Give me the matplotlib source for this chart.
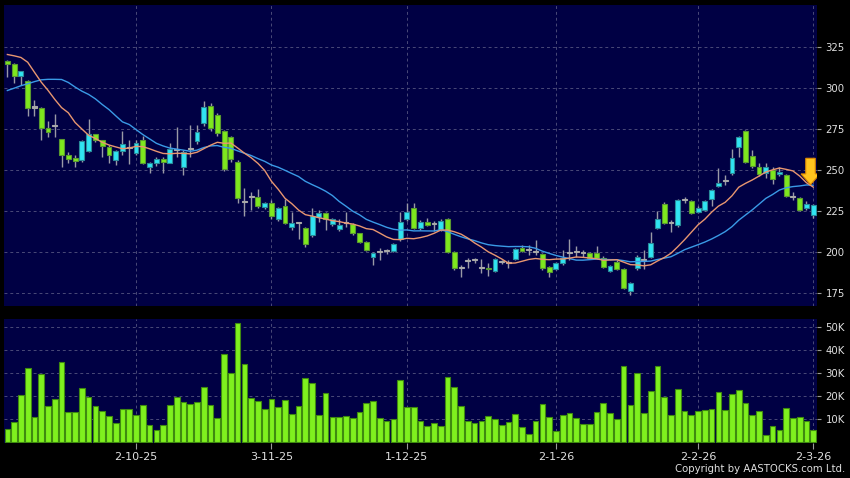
import numpy as np
import pandas as pd
import matplotlib
matplotlib.use("Agg")
import matplotlib.pyplot as plt
from matplotlib.patches import FancyArrow

# daily candles, 4-9-2025 .. 2-3-2026
opens = [316.3, 314.5, 307.2, 304.0, 288.0, 287.9, 275.4, 276.8, 268.7, 259.1,
         257.1, 256.1, 261.6, 271.7, 268.2, 264.2, 256.1, 261.7, 263.2, 260.2,
         268.2, 252.0, 254.5, 256.5, 254.5, 262.2, 251.6, 262.8, 267.8, 278.8,
         288.9, 283.5, 273.9, 269.9, 255.0, 230.7, 233.4, 233.4, 227.7, 229.7,
         220.0, 228.1, 215.1, 217.6, 214.5, 210.5, 221.6, 223.6, 217.0, 213.9,
         217.6, 217.0, 211.5, 206.4, 196.9, 200.1, 200.7, 200.7, 207.8, 220.0,
         226.7, 214.5, 218.6, 217.0, 213.5, 220.0, 200.3, 190.2, 194.6, 195.0,
         190.2, 190.6, 188.6, 194.2, 193.2, 195.7, 202.4, 201.3, 200.3, 198.7,
         190.8, 189.6, 193.2, 199.3, 200.3, 199.7, 199.3, 199.7, 196.7, 188.7,
         194.2, 189.6, 176.6, 190.2, 195.0, 197.3, 214.9, 229.3, 217.6, 216.5,
         231.8, 231.3, 224.6, 225.7, 232.2, 240.3, 243.3, 248.0, 263.8, 273.7,
         258.5, 251.6, 248.0, 250.0, 247.6, 247.0, 233.8, 232.8, 226.7, 222.6]
highs = [316.8, 315.0, 310.5, 305.0, 292.6, 288.5, 279.8, 284.0, 269.0, 261.1,
         259.0, 268.0, 280.8, 272.0, 268.5, 265.0, 262.0, 273.9, 268.2, 268.5,
         270.7, 255.0, 258.1, 258.1, 266.2, 276.0, 262.5, 277.4, 277.4, 292.0,
         290.9, 284.5, 274.5, 270.5, 256.0, 238.9, 236.8, 238.6, 230.5, 231.8,
         227.5, 232.2, 224.6, 218.6, 215.5, 226.7, 225.7, 224.3, 221.0, 220.0,
         224.6, 218.0, 212.0, 207.0, 200.0, 202.4, 202.0, 205.5, 224.6, 229.7,
         229.7, 219.5, 221.0, 219.2, 220.5, 221.0, 200.8, 192.2, 196.3, 196.5,
         195.7, 193.2, 196.5, 195.5, 195.3, 202.5, 204.4, 204.4, 207.4, 199.5,
         191.5, 194.0, 201.3, 208.0, 203.8, 201.5, 200.0, 203.8, 197.5, 192.5,
         195.0, 190.2, 182.0, 198.5, 201.3, 212.5, 225.1, 230.5, 219.6, 232.5,
         233.4, 232.0, 228.0, 232.0, 238.5, 251.0, 247.0, 262.6, 271.0, 274.5,
         262.2, 254.1, 254.1, 252.0, 252.0, 247.8, 236.5, 233.5, 231.0, 229.5]
lows = [306.4, 302.7, 301.7, 282.8, 282.8, 268.2, 269.9, 269.9, 252.0, 254.5,
        252.0, 255.0, 261.0, 267.0, 258.0, 254.1, 253.0, 259.1, 253.6, 259.0,
        253.5, 248.0, 252.5, 248.4, 254.0, 258.0, 247.0, 258.1, 266.0, 277.0,
        274.0, 271.0, 249.5, 255.0, 230.0, 222.2, 225.7, 227.0, 226.5, 220.5,
        219.0, 217.0, 213.5, 208.0, 203.3, 209.5, 218.6, 213.5, 216.0, 213.0,
        215.5, 210.5, 205.5, 200.5, 192.2, 195.3, 199.0, 200.0, 207.0, 219.0,
        214.0, 213.5, 216.0, 213.1, 213.0, 199.5, 189.5, 184.7, 190.2, 193.6,
        187.2, 185.5, 188.0, 193.0, 190.2, 195.0, 200.0, 198.3, 198.3, 189.5,
        185.1, 189.0, 192.5, 195.3, 197.3, 197.0, 196.0, 196.0, 190.5, 188.0,
        189.0, 177.5, 174.0, 189.5, 189.6, 196.5, 214.0, 217.0, 212.5, 215.1,
        229.7, 223.0, 224.0, 225.0, 228.0, 239.5, 240.9, 247.0, 258.1, 254.0,
        251.5, 246.5, 245.0, 241.5, 246.5, 233.5, 232.0, 225.0, 226.0, 220.6]
closes = [314.7, 307.2, 310.0, 287.5, 288.0, 275.4, 273.3, 276.8, 259.1, 256.5,
          255.7, 267.6, 271.7, 268.2, 264.6, 259.1, 261.6, 265.8, 263.2, 266.6,
          254.1, 254.5, 256.5, 255.0, 262.6, 262.2, 261.1, 262.8, 272.9, 288.1,
          275.4, 272.3, 250.4, 256.5, 232.8, 230.7, 233.4, 228.3, 229.7, 222.0,
          226.7, 217.6, 217.9, 217.6, 204.8, 222.0, 223.6, 220.0, 220.0, 216.5,
          217.6, 211.5, 206.4, 201.3, 199.3, 200.1, 200.7, 204.8, 218.6, 224.6,
          214.9, 218.6, 216.5, 217.0, 219.2, 200.3, 190.2, 190.2, 194.6, 195.0,
          190.2, 189.6, 195.7, 194.2, 193.2, 201.8, 200.7, 201.3, 200.3, 190.2,
          187.8, 193.2, 196.3, 199.3, 200.3, 199.7, 196.7, 196.7, 191.2, 191.8,
          189.6, 178.4, 181.1, 197.3, 195.0, 205.8, 220.0, 217.6, 217.6, 231.5,
          231.8, 224.0, 226.7, 231.3, 237.8, 242.3, 243.3, 257.1, 269.9, 255.0,
          252.4, 247.6, 251.6, 244.3, 249.0, 234.2, 233.8, 225.7, 229.3, 228.7]
# volume in thousands of shares
volumes = [5.7, 8.6, 20.4, 32.0, 10.7, 29.6, 15.5, 18.5, 34.8, 13.0,
           13.0, 23.3, 19.4, 15.5, 13.2, 11.2, 8.3, 14.1, 14.1, 11.8,
           15.9, 7.3, 5.3, 7.2, 15.9, 19.7, 17.2, 16.6, 17.2, 24.0,
           15.9, 10.3, 38.2, 30.2, 51.8, 33.9, 19.1, 17.6, 14.3, 18.7,
           15.1, 18.1, 12.0, 15.5, 28.0, 25.6, 11.5, 21.4, 10.6, 11.0,
           11.2, 10.3, 12.8, 17.0, 17.6, 10.5, 9.0, 9.9, 27.1, 15.1,
           15.1, 9.2, 6.9, 8.1, 6.8, 28.3, 23.7, 15.5, 8.9, 8.0,
           9.2, 11.2, 10.0, 7.4, 8.4, 11.9, 6.3, 3.3, 9.0, 16.5,
           10.9, 4.8, 11.6, 12.7, 10.2, 7.9, 7.9, 13.0, 17.0, 12.7,
           9.7, 33.0, 16.2, 30.0, 12.7, 22.1, 33.0, 19.4, 11.6, 22.9,
           13.2, 11.6, 13.3, 13.8, 14.3, 21.8, 13.8, 20.9, 22.7, 17.0,
           11.7, 13.2, 2.8, 6.7, 5.3, 14.6, 10.4, 10.6, 9.2, 5.0]

# moving averages before enough history is on the chart
ma10_head = [320.3, 319.5, 318.5, 315.6, 309.5, 303.5, 298.5, 293.0, 288.0]
ma20_head = [298.4, 299.8, 301.3, 302.5, 303.8, 304.9, 305.2, 305.2, 305.1, 303.3,
             300.5, 298.0, 296.0, 293.3, 289.9, 286.8, 283.0, 279.3, 277.7]

date_ticks = [19, 39, 59, 81, 102, 119]
date_labels = ["2-10-25", "3-11-25", "1-12-25", "2-1-26", "2-2-26", "2-3-26"]
price_ticks = [175, 200, 225, 250, 275, 300, 325]
vol_ticks = [10, 20, 30, 40, 50]

df = pd.DataFrame({"open": opens, "high": highs, "low": lows,
                   "close": closes, "vol": volumes})
ma10 = df["close"].rolling(10).mean().to_numpy()
ma20 = df["close"].rolling(20).mean().to_numpy()
ma10[:len(ma10_head)] = ma10_head
ma20[:len(ma20_head)] = ma20_head
x = np.arange(len(df))

navy = '#000044'
grid_col = '#4a4a78'
text_col = '#e0e0e0'
up_fill, up_edge = '#30e4f2', '#2a8c9a'
dn_fill, dn_edge = '#7ee81e', '#5a9a30'
flat_col = '#a8a8a8'

fig = plt.figure(figsize=(8.5, 4.78), dpi=100, facecolor='black')
ax1 = fig.add_axes([0.0047, 0.3598, 0.9568, 0.6297])
ax2 = fig.add_axes([0.0047, 0.0726, 0.9568, 0.2600], sharex=ax1)

for ax in (ax1, ax2):
    ax.set_facecolor(navy)
    for s in ax.spines.values():
        s.set_visible(False)
    ax.yaxis.tick_right()
    ax.tick_params(axis='y', direction='out', length=3, width=0.8, color='#9a9a9a',
                   labelcolor=text_col, labelsize=7.3, pad=3)
    ax.grid(True, color=grid_col, linestyle=(0, (3, 3)), linewidth=0.7)
    ax.set_axisbelow(True)
    ax.set_xticks(date_ticks)

# candles
body_w = 0.72
cols, edges, bottoms, heights = [], [], [], []
for o, c in zip(df["open"], df["close"]):
    if c > o:
        cols.append(up_fill); edges.append(up_edge)
    elif c < o:
        cols.append(dn_fill); edges.append(dn_edge)
    else:
        cols.append(flat_col); edges.append(flat_col)
    bottoms.append(min(o, c))
    heights.append(max(abs(c - o), 0.7))

ax1.vlines(x, df["low"], df["high"], color='#9a9aa6', linewidth=1, zorder=2)
ax1.bar(x, heights, bottom=bottoms, width=body_w, color=cols, edgecolor=edges,
        linewidth=0.8, zorder=3)
ax1.plot(x, ma20, color='#3a9ae6', linewidth=1, zorder=4)
ax1.plot(x, ma10, color='#e89670', linewidth=1, zorder=4)

# signal arrow on the last MA value
tip = ma10[-1] + 1.5
ax1.add_patch(FancyArrow(x[-1] - 0.4, tip + 16, 0, -16, width=1.4, head_width=2.8,
                         head_length=6.5, length_includes_head=True,
                         facecolor='#ffc41e', edgecolor='#e08a00', linewidth=0.8, zorder=6))

ax1.set_ylim(167.3, 350.4)
ax1.set_yticks(price_ticks)
ax1.tick_params(axis='x', length=0, labelbottom=False)

# volume
ax2.bar(x, df["vol"], width=0.84, color='#7ff01e', edgecolor='#3f8a10', linewidth=0.8, zorder=3)
ax2.set_ylim(-0.7, 53.6)
ax2.set_yticks(vol_ticks)
ax2.set_yticklabels([f"{v}K" for v in vol_ticks])
ax2.set_xticklabels(date_labels)
ax2.tick_params(axis='x', direction='out', length=4, width=0.8, color='#9a9a9a',
                labelcolor=text_col, labelsize=8, pad=2)
ax2.set_xlim(-0.5, 119.6)

fig.text(0.994, 0.008, "Copyright by AASTOCKS.com Ltd.", color=text_col,
         fontsize=7.3, ha='right', va='bottom')

fig.savefig("out.png", dpi=100, facecolor='black')
